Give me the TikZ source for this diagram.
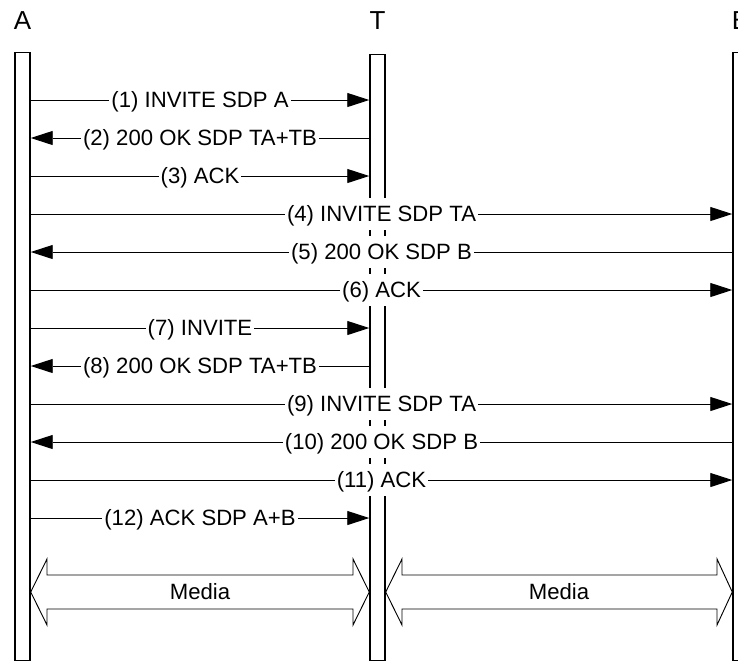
\documentclass[tikz,border=0pt]{standalone}
\usepackage{fontspec}
\setmainfont{Liberation Sans}
\usetikzlibrary{arrows.meta}

\begin{document}
\begin{tikzpicture}
  [x=0.75pt,y=-0.75pt,
  party/.style={anchor=base,font=\fontsize{19.5}{22}\selectfont},
  lifeline/.style={draw,line width=1.1pt,inner sep=0pt,anchor=north,
    minimum width=11.25pt},
  msg/.style={line width=0.7pt,-{Triangle[length=16.5pt,width=10.5pt]}},
  lbl/.style={fill=white,inner xsep=1.5pt,inner ysep=5.8pt,text height=11.8pt,
    text depth=0pt,font=\fontsize{16.6}{19}\selectfont},
  media/.style={line width=0.7pt}]
  \useasboundingbox (0,0) rectangle (738,662);
  \clip (0,0) rectangle (738,662);
  \node[party] (labA) at (22.5,29.5) {A};
  \node[party] (labT) at (377.5,29.5) {T};
  \node[party] (labB) at (740.5,29.5) {B};
  \node[lifeline,minimum height=456pt] (A) at (22.5,52) {};
  \node[lifeline,minimum height=454.5pt] (T) at (377.5,54) {};
  \node[lifeline,minimum height=456pt] (B) at (740.5,52) {};
  \draw[msg] (A.east |- 0,100) -- node[lbl] {(1) INVITE SDP A} (T.west |- 0,100);
  \draw[msg] (T.west |- 0,138) -- node[lbl] {(2) 200 OK SDP TA+TB} (A.east |- 0,138);
  \draw[msg] (A.east |- 0,176) -- node[lbl] {(3) ACK} (T.west |- 0,176);
  \draw[msg] (A.east |- 0,214) -- node[lbl] {(4) INVITE SDP TA} (B.west |- 0,214);
  \draw[msg] (B.west |- 0,252) -- node[lbl] {(5) 200 OK SDP B} (A.east |- 0,252);
  \draw[msg] (A.east |- 0,290) -- node[lbl] {(6) ACK} (B.west |- 0,290);
  \draw[msg] (A.east |- 0,328) -- node[lbl] {(7) INVITE} (T.west |- 0,328);
  \draw[msg] (T.west |- 0,366) -- node[lbl] {(8) 200 OK SDP TA+TB} (A.east |- 0,366);
  \draw[msg] (A.east |- 0,404) -- node[lbl] {(9) INVITE SDP TA} (B.west |- 0,404);
  \draw[msg] (B.west |- 0,442) -- node[lbl] {(10) 200 OK SDP B} (A.east |- 0,442);
  \draw[msg] (A.east |- 0,480) -- node[lbl] {(11) ACK} (B.west |- 0,480);
  \draw[msg] (A.east |- 0,518) -- node[lbl] {(12) ACK SDP A+B} (T.west |- 0,518);
  \draw[media] (A.east |- 0,592) -- (47,559) -- (47,575) -- (353,575) -- (353,559)
    -- (T.west |- 0,592) -- (353,625) -- (353,609) -- (47,609) -- (47,625) -- cycle;
  \node[lbl,fill=none] (mediaAT) at (200,592) {Media};
  \draw[media] (T.east |- 0,592) -- (402,559) -- (402,575) -- (717,575) -- (717,559)
    -- (B.west |- 0,592) -- (717,625) -- (717,609) -- (402,609) -- (402,625) -- cycle;
  \node[lbl,fill=none] (mediaTB) at (559,592) {Media};
\end{tikzpicture}
\end{document}
